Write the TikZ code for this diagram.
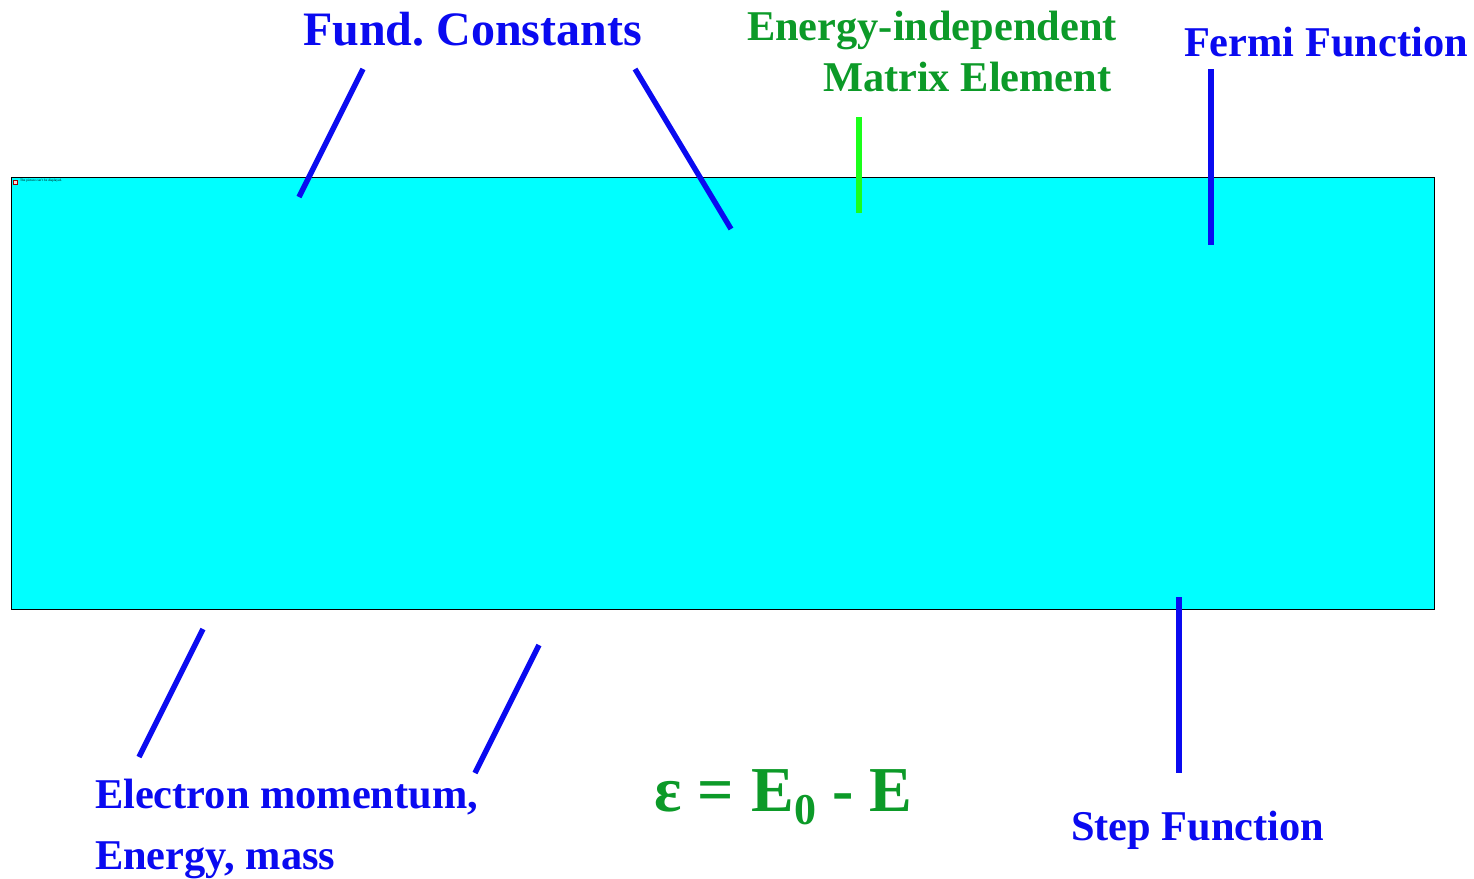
\documentclass[tikz,border=0pt]{standalone}
\usepackage{fontspec}
\setmainfont{Liberation Serif}
\definecolor{lblblue}{RGB}{10,10,240}
\definecolor{lblgreen}{RGB}{12,154,40}
\definecolor{linegreen}{RGB}{26,255,26}
\definecolor{panelcyan}{RGB}{0,255,255}
\tikzset{
  lbl/.style={anchor=base west,inner sep=0pt,outer sep=0pt,font=\bfseries\fontsize{42.4}{42.4}\selectfont},
  bluelbl/.style={lbl,text=lblblue},
  greenlbl/.style={lbl,text=lblgreen},
  conn/.style={draw=lblblue,line width=5.4pt},
  greenconn/.style={draw=linegreen,line width=5.4pt}
}
\begin{document}
\frenchspacing
\begin{tikzpicture}[x=1pt,y=-1pt]
\useasboundingbox (0,0) rectangle (1474,878);
\node[draw=black,fill=panelcyan,line width=0.8pt,inner sep=0pt,anchor=north west,text width=1423pt,minimum height=432pt] (panel) at (11,177) {};
\node[anchor=west,inner sep=0pt,font=\fontsize{3.4}{3.4}\selectfont] (missing) at (20,180.5) {The picture can't be displayed.};
\node[draw=red!60!black,fill=red!15,inner sep=0pt,minimum size=4pt,anchor=center] (icon) at (15.5,182) {};

\node[bluelbl,font=\bfseries\fontsize{48}{48}\selectfont] (fund) at (303,45) {Fund. Constants};
\node[greenlbl] (energy) at (747,40) {Energy-independent};
\node[greenlbl] (matrix) at (823,91) {Matrix Element};
\node[bluelbl] (fermi) at (1184,56) {Fermi Function};
\node[bluelbl] (electron) at (95,808) {Electron momentum,};
\node[bluelbl] (mass) at (95,869) {Energy, mass};
\node[bluelbl] (stepfn) at (1071,840) {Step Function};
\node[greenlbl,font=\bfseries\fontsize{64}{64}\selectfont] (eq) at (654,811.5)
  {ε = \kern2pt E\raisebox{-13pt}{\fontsize{44}{44}\selectfont 0} - E};

\coordinate (a1) at (363,69);  \coordinate (a2) at (299,197);
\coordinate (b1) at (635,69);  \coordinate (b2) at (731,229);
\coordinate (c1) at (859,117); \coordinate (c2) at (859,213);
\coordinate (d1) at (1211,69); \coordinate (d2) at (1211,245);
\coordinate (e1) at (203,629); \coordinate (e2) at (139,757);
\coordinate (f1) at (539,645); \coordinate (f2) at (475,773);
\coordinate (g1) at (1179,597);\coordinate (g2) at (1179,773);
\draw[conn] (a1) -- (a2);
\draw[conn] (b1) -- (b2);
\draw[greenconn] (c1) -- (c2);
\draw[conn] (d1) -- (d2);
\draw[conn] (e1) -- (e2);
\draw[conn] (f1) -- (f2);
\draw[conn] (g1) -- (g2);
\end{tikzpicture}
\end{document}
